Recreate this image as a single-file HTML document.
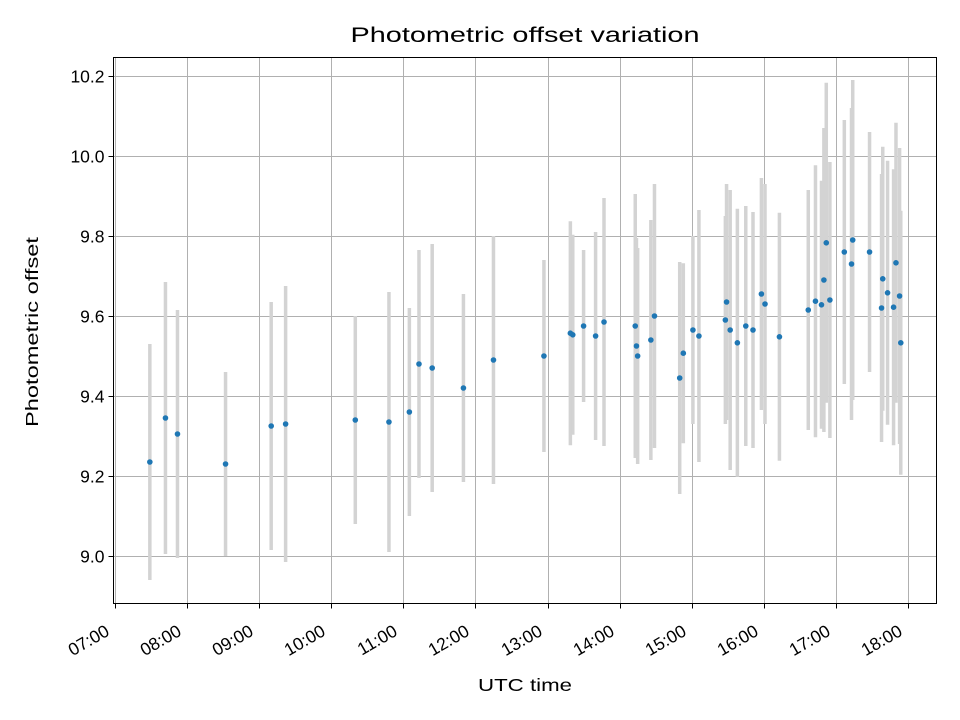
<!DOCTYPE html>
<html><head><meta charset="utf-8"><style>
html,body{margin:0;padding:0;background:#fff;}
svg{display:block;font-family:"Liberation Sans",sans-serif;}
</style></head><body>
<svg id="chart" width="960" height="720" viewBox="0 0 960 720" xmlns="http://www.w3.org/2000/svg">
<rect x="0" y="0" width="960" height="720" fill="#fff"/>
<g id="grid"></g>
<g id="errs"></g>
<g id="pts"></g>
<rect x="113.5" y="57.5" width="823" height="546" fill="none" stroke="#000" stroke-width="1"/>
<g id="xt"></g>
<g id="yt"></g>
<text x="525" y="42" text-anchor="middle" font-size="21" textLength="349" lengthAdjust="spacingAndGlyphs">Photometric offset variation</text>
<text x="525" y="691" text-anchor="middle" font-size="17.5" textLength="94" lengthAdjust="spacingAndGlyphs">UTC time</text>
<text transform="translate(38,332) rotate(-90)" text-anchor="middle" font-size="17.5" textLength="190" lengthAdjust="spacingAndGlyphs">Photometric offset</text>
</svg>
<script>
const times = ["07:29","07:42","07:52","08:32","09:10","09:22","10:20","10:48","11:05","11:13","11:24","11:50","12:15","12:57","13:19","13:21","13:30","13:40","13:47","14:13","14:14","14:15","14:26","14:29","14:50","14:53","15:01","15:06","15:28","15:29","15:32","15:38","15:45","15:51","15:58","16:01","16:13","16:37","16:43","16:48","16:50","16:52","16:55","17:07","17:13","17:14","17:28","17:38","17:39","17:43","17:48","17:50","17:53","17:54"];
const offsets = [9.235,9.345,9.305,9.23,9.325,9.33,9.34,9.335,9.36,9.48,9.47,9.42,9.49,9.50,9.557,9.553,9.575,9.55,9.585,9.575,9.525,9.50,9.54,9.60,9.445,9.507,9.565,9.55,9.59,9.635,9.565,9.533,9.575,9.565,9.655,9.63,9.548,9.615,9.637,9.628,9.69,9.783,9.64,9.76,9.73,9.79,9.76,9.62,9.693,9.658,9.622,9.733,9.65,9.533];
const errors = [0.295,0.34,0.31,0.23,0.31,0.345,0.26,0.325,0.26,0.285,0.31,0.235,0.31,0.24,0.28,0.25,0.19,0.26,0.31,0.33,0.27,0.27,0.30,0.33,0.29,0.225,0.235,0.315,0.26,0.295,0.35,0.335,0.30,0.295,0.29,0.30,0.31,0.30,0.34,0.31,0.38,0.40,0.345,0.33,0.39,0.40,0.30,0.335,0.33,0.33,0.345,0.35,0.37,0.33];
const xTickLabels = ["07:00","08:00","09:00","10:00","11:00","12:00","13:00","14:00","15:00","16:00","17:00","18:00"];
const yTickLabels = ["9.0","9.2","9.4","9.6","9.8","10.0","10.2"];

const NS="http://www.w3.org/2000/svg";
const PL=113.5, PR=936.5, PT=57.5, PB=603.5;
function hrs(s){const p=s.split(":");return +p[0]+(+p[1])/60;}
function xs(h){return 115+(h-7)*72.09;}
function ys(v){return 556-(v-9.0)*400;}
function mk(tag,attrs,parent){const e=document.createElementNS(NS,tag);for(const k in attrs)e.setAttribute(k,attrs[k]);parent.appendChild(e);return e;}
const grid=document.getElementById('grid'),xt=document.getElementById('xt'),yt=document.getElementById('yt');
xTickLabels.forEach(l=>{
  const x=Math.round(xs(hrs(l)))+0.5;
  const g=mk('line',{x1:x,x2:x,y1:PT,y2:PB,stroke:'#b0b0b0','stroke-width':1},grid);
  
  
  const t=mk('line',{x1:x,x2:x,y1:PB,y2:PB+5,stroke:'#000'},xt);
  
  
  const tx=mk('text',{transform:`translate(${x-5},${PB+31}) rotate(-30)`,'text-anchor':'end','font-size':17.5},xt);
  tx.textContent=l;
  
  
});
yTickLabels.forEach(l=>{
  const y=Math.round(ys(+l))+0.5;
  const g=mk('line',{x1:PL,x2:PR,y1:y,y2:y,stroke:'#b0b0b0','stroke-width':1},grid);
  
  
  const t=mk('line',{x1:PL-5,x2:PL,y1:y,y2:y,stroke:'#000'},yt);
  
  
  const tx=mk('text',{x:PL-9,y:y+6,'text-anchor':'end','font-size':17.5},yt);
  tx.textContent=l;
  
  
});
const errs=document.getElementById('errs'),pts=document.getElementById('pts');
times.forEach((t,i)=>{
  const x=xs(hrs(t));
  const e=mk('line',{x1:x,x2:x,y1:ys(offsets[i]+errors[i]),y2:ys(offsets[i]-errors[i]),stroke:'#d3d3d3','stroke-width':3.5},errs);
  
  
  const c=mk('circle',{cx:x,cy:ys(offsets[i]),r:2.8,fill:'#1f77b4'},pts);
  
  
});
</script>
</body></html>
